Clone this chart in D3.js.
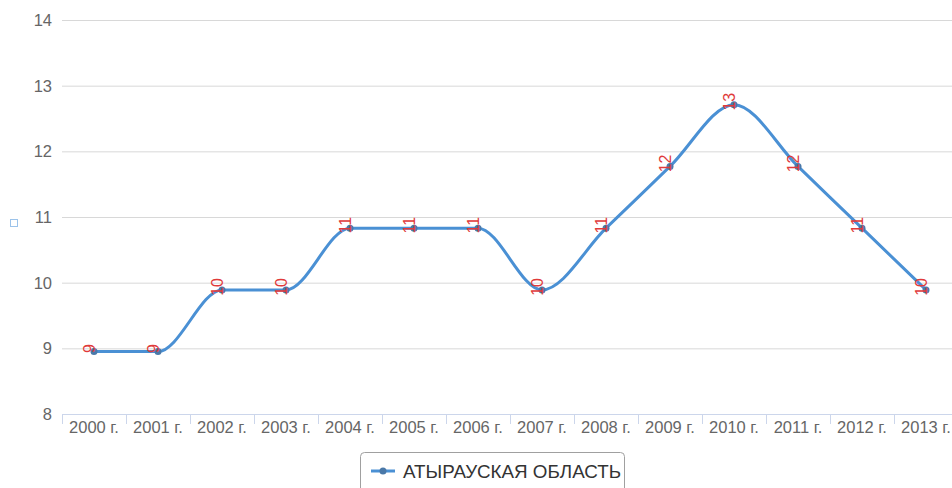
<!DOCTYPE html>
<html><head><meta charset="utf-8">
<script src="https://cdn.jsdelivr.net/npm/d3@7"></script>
<style>
html,body{margin:0;padding:0;background:#fff;overflow:hidden;}
text{font-family:"Liberation Sans",Arial,sans-serif;}
</style></head>
<body>
<svg id="chart" width="952" height="488"></svg>
<script>
const categories = ["2000 г.","2001 г.","2002 г.","2003 г.","2004 г.","2005 г.","2006 г.","2007 г.","2008 г.","2009 г.","2010 г.","2011 г.","2012 г.","2013 г."];
const values = [8.95, 8.95, 9.89, 9.89, 10.83, 10.83, 10.83, 9.89, 10.83, 11.77, 12.71, 11.77, 10.83, 9.89];
const labels = ["9","9","10","10","11","11","11","10","11","12","13","12","11","10"];
const yTicks = [8, 9, 10, 11, 12, 13, 14];
const seriesName = "АТЫРАУСКАЯ ОБЛАСТЬ";

const svg = d3.select("#chart");
const left = 62, bandW = 64;
const x = d3.scaleBand().domain(categories).range([left, left + bandW * categories.length]).padding(0);
const y = d3.scaleLinear().domain([8, 14]).range([414, 20]);

// gridlines
svg.append("g").selectAll("line").data(yTicks.filter(d => d !== 8)).join("line")
  .attr("x1", left).attr("x2", 952)
  .attr("y1", d => y(d) + 0.5).attr("y2", d => y(d) + 0.5)
  .attr("stroke", "#d8d8d8").attr("stroke-width", 1);

// y labels
svg.append("g").selectAll("text").data(yTicks).join("text")
  .attr("x", 52).attr("y", d => y(d) + 6)
  .attr("text-anchor", "end").attr("font-size", 16.5).attr("fill", "#666")
  .text(d => d);

// x axis line
svg.append("line").attr("x1", left).attr("x2", 952)
  .attr("y1", 414.5).attr("y2", 414.5).attr("stroke", "#ccd6eb");
// x ticks at band boundaries
const bounds = categories.map(c => x(c)).concat([x(categories[categories.length-1]) + bandW]);
svg.append("g").selectAll("line").data(bounds).join("line")
  .attr("x1", d => d + 0.5).attr("x2", d => d + 0.5)
  .attr("y1", 414).attr("y2", 424).attr("stroke", "#ccd6eb");
svg.append("g").selectAll("text").data(categories).join("text")
  .attr("x", d => x(d) + bandW / 2).attr("y", 433)
  .attr("text-anchor", "middle").attr("font-size", 16.5).attr("fill", "#666")
  .text(d => d);

// y-axis title placeholder square
svg.append("rect").attr("x", 10.5).attr("y", 219.5).attr("width", 7).attr("height", 7)
  .attr("fill", "none").attr("stroke", "#9cc3ea").attr("stroke-width", 1);

// line
const pts = categories.map((c, i) => [x(c) + bandW / 2, y(values[i])]);
svg.append("path").datum(pts)
  .attr("d", d3.line().curve(d3.curveMonotoneX))
  .attr("fill", "none").attr("stroke", "#4a90d4").attr("stroke-width", 3);

// markers
svg.append("g").selectAll("circle").data(pts).join("circle")
  .attr("cx", d => d[0]).attr("cy", d => d[1]).attr("r", 3.5)
  .attr("fill", "#4a78a8");

// data labels
svg.append("g").selectAll("text").data(pts).join("text")
  .attr("transform", d => `translate(${d[0] + 1},${d[1] - 3}) rotate(-90)`)
  .attr("text-anchor", "middle").attr("font-size", 16).attr("fill", "#e03a3a")
  .text((d, i) => labels[i]);

// legend
const lg = svg.append("g");
lg.append("rect").attr("x", 360.5).attr("y", 452.5).attr("width", 264).attr("height", 44)
  .attr("rx", 4).attr("fill", "#fff").attr("stroke", "#a0a0a0");
lg.append("line").attr("x1", 371).attr("x2", 395).attr("y1", 471).attr("y2", 471)
  .attr("stroke", "#4a90d4").attr("stroke-width", 3);
lg.append("circle").attr("cx", 383).attr("cy", 471).attr("r", 3.5).attr("fill", "#4a78a8");
lg.append("text").attr("x", 403).attr("y", 478).attr("font-size", 18.5).attr("fill", "#333")
  .attr("textLength", 218).attr("lengthAdjust", "spacingAndGlyphs")
  .text(seriesName);
</script>
</body></html>
